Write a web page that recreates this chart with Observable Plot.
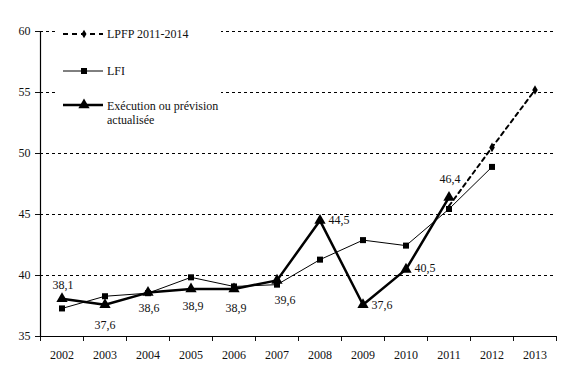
<!DOCTYPE html>
<html><head><meta charset="utf-8">
<script src="https://cdn.jsdelivr.net/npm/d3@7"></script>
<script src="https://cdn.jsdelivr.net/npm/@observablehq/plot@0.6"></script>
<style>
body{margin:0;background:#fff;}
#wrap{position:relative;width:581px;height:375px;}
#legend{position:absolute;left:0;top:0;pointer-events:none;}
text{font-family:"Liberation Serif","Times New Roman",serif;}
</style></head>
<body><div id="wrap"></div>
<script>
const years = [2002,2003,2004,2005,2006,2007,2008,2009,2010,2011,2012,2013];
const lpfpYears = [2011,2012,2013];
const lpfp = [45.7,50.5,55.2];
const lfiYears = [2002,2003,2004,2005,2006,2007,2008,2009,2010,2011,2012];
const lfi = [37.3,38.3,38.55,39.85,39.1,39.25,41.3,42.9,42.45,45.45,48.9];
const execYears = [2002,2003,2004,2005,2006,2007,2008,2009,2010,2011];
const exec = [38.1,37.6,38.6,38.9,38.9,39.6,44.5,37.6,40.5,46.4];
const execLabels = ["38,1","37,6","38,6","38,9","38,9","39,6","44,5","37,6","40,5","46,4"];
const yTicks = [35,40,45,50,55,60];
const gridValues = [40,45,50,55,60];
const seriesNames = ["LPFP 2011-2014","LFI","Exécution ou prévision actualisée"];

// label placement (style, not data)
const labelOffsets = [[1,-14],[0,20],[1,16],[2,17],[2,19],[8,20],[19,0],[19,0],[19,-1],[1,-18]];

const lpfpData = lpfpYears.map((y,i)=>({year:y,v:lpfp[i]}));
const lfiData = lfiYears.map((y,i)=>({year:y,v:lfi[i]}));
const execData = execYears.map((y,i)=>({year:y,v:exec[i],label:execLabels[i],dx:labelOffsets[i][0],dy:labelOffsets[i][1]}));
const boundaries = [years[0]-0.5, ...years.map(y=>y+0.5)];

const font = "Liberation Serif, Times New Roman, serif";
const ink = "#111";

const chart = Plot.plot({
  width:581, height:375,
  marginLeft:40, marginRight:25, marginTop:31, marginBottom:39,
  style:{fontFamily:font, fontSize:"12px", color:ink, background:"#fff"},
  x:{type:"linear", domain:[years[0]-0.5, years[years.length-1]+0.5]},
  y:{domain:[35,60]},
  marks:[
    Plot.gridY(gridValues,{stroke:"#000", strokeOpacity:1, strokeWidth:1, strokeDasharray:"3,3"}),
    Plot.axisY({ticks:yTicks, tickSize:5, tickPadding:5, label:null, tickFormat:d=>String(d), fontSize:12}),
    Plot.axisX({ticks:boundaries, tickSize:5, tickFormat:()=>"", label:null}),
    Plot.axisX({ticks:years, tickSize:0, tickPadding:14, tickFormat:d=>String(d), label:null, fontSize:12}),
    Plot.ruleY([35],{stroke:"#000", strokeWidth:1.2}),
    Plot.ruleX([years[0]-0.5],{stroke:"#000", strokeWidth:1.2}),
    Plot.line(lpfpData,{x:"year", y:"v", stroke:"#000", strokeWidth:2, strokeDasharray:"4,4"}),
    Plot.dot(lpfpData.slice(1),{x:"year", y:"v", symbol:"diamond", r:2.9, fill:"#000"}),
    Plot.line(lfiData,{x:"year", y:"v", stroke:"#000", strokeWidth:1}),
    Plot.dot(lfiData,{x:"year", y:"v", symbol:"square", r:3.4, fill:"#000"}),
    Plot.line(execData,{x:"year", y:"v", stroke:"#000", strokeWidth:2.5}),
    Plot.dot(execData,{x:"year", y:"v", symbol:"triangle", r:4.2, fill:"#000"}),
    ...execData.map(d=>Plot.text([d],{x:"year", y:"v", text:"label", dx:d.dx, dy:d.dy, fill:ink, fontSize:12}))
  ]
});
const wrap = document.getElementById("wrap");
wrap.appendChild(chart);

// legend overlay
const lg = d3.select(wrap).append("svg").attr("id","legend").attr("width",581).attr("height",375);
lg.append("rect").attr("x",58).attr("y",20).attr("width",163).attr("height",112).attr("fill","#fff");
const items = [
  {y:34, dash:"5,4", w:2, sym:d3.symbolDiamond, size:22},
  {y:71, dash:null, w:1, sym:d3.symbolSquare, size:36},
  {y:105, dash:null, w:2.5, sym:d3.symbolTriangle, size:55}
];
items.forEach((it,i)=>{
  const l = lg.append("line").attr("x1",63).attr("x2",103).attr("y1",it.y).attr("y2",it.y).attr("stroke","#000").attr("stroke-width",it.w);
  if(it.dash) l.attr("stroke-dasharray",it.dash);
  lg.append("path").attr("d",d3.symbol(it.sym,it.size)()).attr("transform",`translate(84,${it.y})`).attr("fill","#000");
});
lg.append("text").attr("x",107).attr("y",34).attr("dy","0.35em").attr("font-size",12).attr("fill",ink).text(seriesNames[0]);
lg.append("text").attr("x",107).attr("y",71).attr("dy","0.35em").attr("font-size",12).attr("fill",ink).text(seriesNames[1]);
const parts = seriesNames[2].split(" ");
lg.append("text").attr("x",107).attr("y",106).attr("dy","0.35em").attr("font-size",12).attr("fill",ink).text(parts.slice(0,3).join(" "));
lg.append("text").attr("x",107).attr("y",120).attr("dy","0.35em").attr("font-size",12).attr("fill",ink).text(parts.slice(3).join(" "));
</script></body></html>
